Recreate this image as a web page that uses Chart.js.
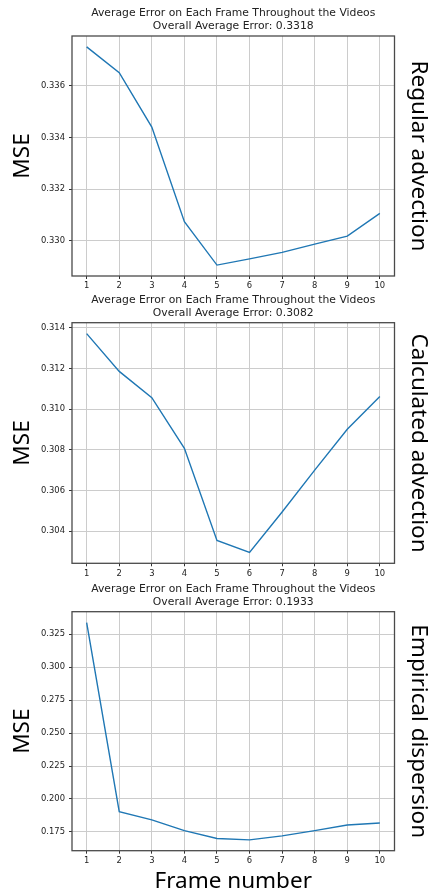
<!DOCTYPE html>
<html>
<head>
<meta charset="utf-8">
<script src="https://cdn.jsdelivr.net/npm/chart.js@4/dist/chart.umd.min.js"></script>
<style>
  html, body { margin: 0; padding: 0; background: #fff; }
  .panel { position: absolute; left: 0; width: 430px; }
</style>
</head>
<body>
<div class="panel" style="top:0;height:290px"><canvas id="graficoRegular"></canvas></div>
<div class="panel" style="top:290px;height:290px"><canvas id="graficoCalculado"></canvas></div>
<div class="panel" style="top:580px;height:314px"><canvas id="graficoEmpirico"></canvas></div>
<script>
// dados
const frames = [1, 2, 3, 4, 5, 6, 7, 8, 9, 10];
const regularMse = [0.33750, 0.33650, 0.33440, 0.33074, 0.32906, 0.32930, 0.32955, 0.32987, 0.33018, 0.33106];
const calculatedMse = [0.31372, 0.31186, 0.31057, 0.30807, 0.30354, 0.30295, 0.30494, 0.30700, 0.30901, 0.31062];
const empiricalMse = [0.3338, 0.1904, 0.1841, 0.1760, 0.1700, 0.1690, 0.1720, 0.1760, 0.1803, 0.1818];

const regularTicks = [0.330, 0.332, 0.334, 0.336];
const calculatedTicks = [0.304, 0.306, 0.308, 0.310, 0.312, 0.314];
const empiricalTicks = [0.175, 0.200, 0.225, 0.250, 0.275, 0.300, 0.325];

const titleLine = 'Average Error on Each Frame Throughout the Videos';
const avgLabels = ['Overall Average Error: 0.3318', 'Overall Average Error: 0.3082', 'Overall Average Error: 0.1933'];
const sideLabels = ['Regular advection', 'Calculated advection', 'Empirical dispersion'];
const yTitle = 'MSE';
const xTitle = 'Frame number';

const bigFont = '22.5px "Noto Sans"';

function criaPainel(id, values, ticks, avgText, sideText, plotTop, xHeight, showXTitle) {
    const lo = Math.min(...values), hi = Math.max(...values);
    const pad = (hi - lo) * 0.05;

    const textos = {
        id: 'textos',
        afterDraw(chart) {
            const ctx = chart.ctx;
            const a = chart.chartArea;
            const midY = (a.top + a.bottom) / 2;
            ctx.save();
            // moldura
            ctx.strokeStyle = '#4a4a4a';
            ctx.lineWidth = 1.3;
            ctx.strokeRect(a.left, a.top, a.right - a.left, a.bottom - a.top);
            // titulo
            ctx.fillStyle = '#222';
            ctx.font = '10.8px "DejaVu Sans"';
            ctx.textAlign = 'center';
            ctx.textBaseline = 'middle';
            const cx = (a.left + a.right) / 2;
            ctx.fillText(titleLine, cx, a.top - 22.5);
            ctx.fillText(avgText, cx, a.top - 10);
            // MSE
            ctx.fillStyle = '#000';
            ctx.font = bigFont;
            ctx.save();
            ctx.translate(23, midY);
            ctx.rotate(-Math.PI / 2);
            ctx.fillText(yTitle, 0, 0);
            ctx.restore();
            // rotulo lateral
            ctx.save();
            ctx.translate(418, midY);
            ctx.rotate(Math.PI / 2);
            ctx.fillText(sideText, 0, 0);
            ctx.restore();
            if (showXTitle) {
                ctx.fillText(xTitle, cx, a.bottom + 31);
            }
            ctx.restore();
        }
    };

    return new Chart(document.getElementById(id).getContext('2d'), {
        type: 'line',
        data: {
            labels: frames,
            datasets: [{
                data: frames.map((f, i) => ({x: f, y: values[i]})),
                borderColor: '#1f77b4',
                borderWidth: 1.4,
                pointRadius: 0,
                tension: 0,
                fill: false
            }]
        },
        options: {
            responsive: true,
            maintainAspectRatio: false,
            animation: false,
            layout: { padding: { top: plotTop, right: 35.5, left: 0, bottom: 0 } },
            plugins: {
                legend: { display: false },
                title: { display: false },
                tooltip: { enabled: false }
            },
            scales: {
                x: {
                    type: 'linear',
                    min: 0.55,
                    max: 10.45,
                    afterBuildTicks: s => { s.ticks = frames.map(v => ({value: v})); },
                    afterFit: s => { s.height = xHeight; },
                    border: { display: false },
                    grid: { color: '#cccccc', lineWidth: 1, tickLength: 3, tickColor: '#333' },
                    ticks: {
                        color: '#222',
                        padding: 2,
                        maxRotation: 0,
                        autoSkip: false,
                        font: { family: 'DejaVu Sans', size: 8.4 }
                    }
                },
                y: {
                    min: lo - pad,
                    max: hi + pad,
                    afterBuildTicks: s => { s.ticks = ticks.map(v => ({value: v})); },
                    afterFit: s => { s.width = 72; },
                    border: { display: false },
                    grid: { color: '#cccccc', lineWidth: 1, tickLength: 3, tickColor: '#333' },
                    ticks: {
                        color: '#222',
                        padding: 4,
                        autoSkip: false,
                        font: { family: 'DejaVu Sans', size: 8.4 },
                        callback: v => v.toFixed(3)
                    }
                }
            }
        },
        plugins: [textos]
    });
}

criaPainel('graficoRegular', regularMse, regularTicks, avgLabels[0], sideLabels[0], 36, 14, false);
criaPainel('graficoCalculado', calculatedMse, calculatedTicks, avgLabels[1], sideLabels[1], 32.7, 16.7, false);
criaPainel('graficoEmpirico', empiricalMse, empiricalTicks, avgLabels[2], sideLabels[2], 31.7, 43.3, true);
</script>
</body>
</html>
